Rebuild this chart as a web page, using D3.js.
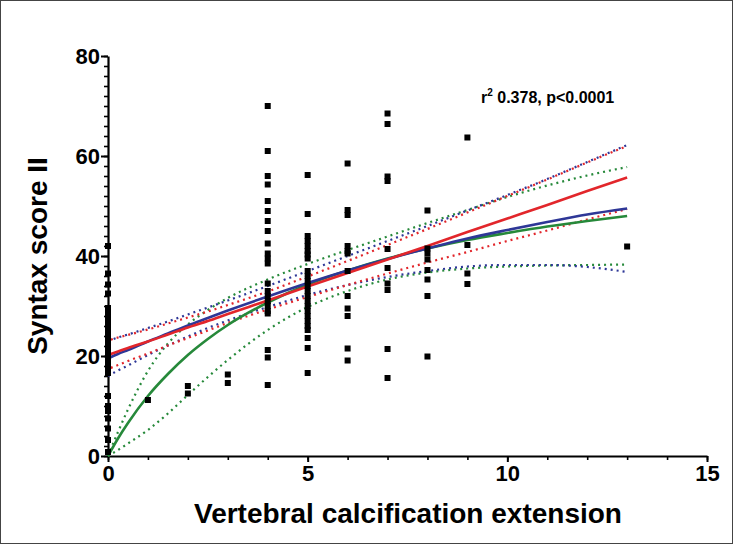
<!DOCTYPE html>
<html><head><meta charset="utf-8">
<script src="https://cdn.jsdelivr.net/npm/d3@7"></script>
<style>
html,body{margin:0;padding:0;background:#fff;}
text{font-family:"Liberation Sans",Arial,Helvetica,sans-serif;font-weight:bold;fill:#000;}
</style></head>
<body>
<script>
// ---- data ----
const columnX = [0, 1, 2, 3, 4, 5, 6, 7, 8, 9, 13];
const columnValues = [
  [42, 36.5, 34.3, 32.5, 29.6, 28.5, 27.5, 26.5, 25.5, 24.5, 23.5, 22.5, 21.5, 20.5, 19.5, 18.5, 17.5, 16.6, 12, 10, 9, 7.5, 5.5, 3.2, 0.8],
  [11.2],
  [14, 12.5],
  [16.3, 14.6],
  [70, 61, 56, 54.3, 51, 49, 47, 45, 42.5, 40.5, 39.5, 38.5, 34.5, 33, 32, 31, 30, 29, 28.5, 21.2, 19.7, 14.2],
  [56.2, 48.4, 44, 43, 42, 41, 40.3, 39.5, 37, 36, 35, 34, 33, 32, 31, 30, 29, 28, 27, 26, 25.2, 23.6, 21.6, 16.6],
  [58.5, 49.2, 48.2, 42, 41, 40.5, 37, 32, 29.5, 28, 21.5, 19.1],
  [68.5, 66.4, 55.9, 55, 41.4, 37.6, 34.5, 33.2, 21.4, 15.6],
  [49.1, 41.5, 40.5, 39.3, 37.2, 35.3, 32, 19.9],
  [63.7, 42.2, 36.5, 34.4],
  [41.9]
];
const xTicks = [0, 5, 10, 15];
const yTicks = [0, 20, 40, 60, 80];
const fitX      = [0, 0.25, 0.5, 1, 1.5, 2, 2.5, 3, 4, 5, 6, 7, 8, 9, 10, 11, 12, 13];
const redFit    = [20.2, 20.9, 21.6, 22.9, 24.3, 25.7, 27.0, 28.4, 31.1, 33.9, 36.6, 39.3, 42.0, 44.8, 47.5, 50.2, 53.0, 55.7];
const redUpper  = [23.1, 23.7, 24.2, 25.3, 26.5, 27.7, 28.9, 30.2, 32.9, 35.9, 39.0, 42.2, 45.4, 48.7, 52.0, 55.3, 58.7, 62.0];
const redLower  = [17.4, 18.2, 19.0, 20.5, 22.1, 23.6, 25.1, 26.6, 29.3, 31.8, 34.2, 36.5, 38.7, 40.8, 43.0, 45.1, 47.3, 49.4];
const blueFit   = [19.5, 20.4, 21.2, 22.9, 24.5, 26.1, 27.6, 29.1, 31.9, 34.6, 37.1, 39.4, 41.5, 43.5, 45.2, 46.8, 48.3, 49.5];
const blueUpper = [23.0, 23.7, 24.3, 25.6, 26.9, 28.3, 29.7, 31.1, 34.0, 37.0, 40.0, 43.0, 46.0, 49.1, 52.2, 55.4, 58.8, 62.2];
const blueLower = [16.0, 17.1, 18.1, 20.2, 22.1, 23.9, 25.6, 27.1, 29.8, 32.2, 34.2, 35.8, 37.0, 37.9, 38.2, 38.2, 37.8, 36.8];
const greenFit  = [0, 3.5, 6.6, 12.0, 16.4, 20.2, 23.4, 26.2, 30.7, 34.3, 37.1, 39.5, 41.5, 43.2, 44.6, 45.9, 47.0, 48.0];
const greenUpper= [0, 4.8, 9.3, 17.0, 22.5, 26.3, 29.2, 31.6, 35.3, 38.4, 41.2, 43.9, 46.6, 49.2, 51.8, 54.1, 56.1, 57.8];
const greenLower= [0, 1.2, 2.5, 5.2, 8.5, 12.2, 15.8, 19.2, 25.2, 29.8, 33.0, 35.3, 36.7, 37.5, 37.9, 38.1, 38.2, 38.3];
const xTitle = "Vertebral calcification extension";
const yTitle = "Syntax score II";

// ---- chart ----
const W = 733, H = 544;
const RED = "#e2262b", BLUE = "#2e3797", GREEN = "#26893a";
const svg = d3.select("body").append("svg").attr("width", W).attr("height", H);
svg.append("rect").attr("x", 0.5).attr("y", 0.5).attr("width", W - 1).attr("height", H - 1)
  .attr("fill", "#fff").attr("stroke", "#444").attr("stroke-width", 1);

const x = d3.scaleLinear().domain([0, 15]).range([108, 707]);
const y = d3.scaleLinear().domain([0, 80]).range([456, 56]);

// axes
const yMinor = d3.range(0, 81, 2);
const xMinor = d3.range(0, 16, 1);
svg.append("g").attr("transform", `translate(${x(0)},0)`)
  .call(d3.axisLeft(y).tickValues(yMinor).tickSize(4).tickFormat(""))
  .call(g => g.select(".domain").remove())
  .selectAll("line").attr("stroke-width", 1.6);
svg.append("g").attr("transform", `translate(0,${y(0)})`)
  .call(d3.axisBottom(x).tickValues(xMinor).tickSize(4).tickFormat(""))
  .call(g => g.select(".domain").remove())
  .selectAll("line").attr("stroke-width", 1.6);

const gy = svg.append("g").attr("transform", `translate(${x(0)},0)`)
  .call(d3.axisLeft(y).tickValues(yTicks).tickSize(7).tickSizeOuter(0).tickPadding(1));
const gx = svg.append("g").attr("transform", `translate(0,${y(0)})`)
  .call(d3.axisBottom(x).tickValues(xTicks).tickSize(6).tickSizeOuter(0).tickPadding(3));
[gy, gx].forEach(g => {
  g.select(".domain").attr("stroke-width", 2.2);
  g.selectAll(".tick line").attr("stroke-width", 2);
  g.selectAll(".tick text").attr("font-size", 22).attr("font-weight", "bold")
    .attr("font-family", '"Liberation Sans",Arial,sans-serif').attr("fill", "#000");
});

// fit lines
const mk = vals => d3.line().x((d, i) => x(fitX[i])).y(d => y(d)).curve(d3.curveMonotoneX)(vals);
const plot = svg.append("g");
const dotted = (vals, col, off) => plot.append("path").attr("d", mk(vals)).attr("fill", "none")
  .attr("stroke", col).attr("stroke-width", 2.2).attr("stroke-dasharray", "2,4").attr("stroke-dashoffset", off);
const solid = (vals, col) => plot.append("path").attr("d", mk(vals)).attr("fill", "none")
  .attr("stroke", col).attr("stroke-width", 2.6);

dotted(greenUpper, GREEN, 0); dotted(greenLower, GREEN, 0);
dotted(blueUpper, BLUE, 0); dotted(blueLower, BLUE, 0);
dotted(redUpper, RED, 3); dotted(redLower, RED, 3);
solid(greenFit, GREEN);
solid(blueFit, BLUE);
solid(redFit, RED);

// points
const pts = [];
columnX.forEach((cx, i) => columnValues[i].forEach(v => pts.push([cx, v])));
const S = 6;
svg.append("g").selectAll("rect").data(pts).join("rect")
  .attr("x", d => x(d[0]) - S / 2).attr("y", d => y(d[1]) - S / 2)
  .attr("width", S).attr("height", S).attr("fill", "#000");

// titles
svg.append("text").attr("x", 408).attr("y", 523).attr("text-anchor", "middle")
  .attr("font-size", 28).text(xTitle);
svg.append("text").attr("transform", `translate(47,${y(40)}) rotate(-90)`).attr("text-anchor", "middle")
  .attr("font-size", 28).text(yTitle);

// annotation
const ann = svg.append("text").attr("x", 481).attr("y", 103).attr("font-size", 16);
ann.append("tspan").text("r");
ann.append("tspan").attr("font-size", 10).attr("dy", -7).text("2");
ann.append("tspan").attr("dy", 7).text(" 0.378, p<0.0001");
</script>
</body></html>
